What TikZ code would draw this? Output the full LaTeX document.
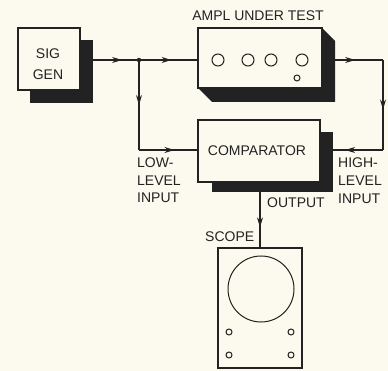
\documentclass[tikz,border=0pt]{standalone}
\usepackage{fontspec}
\setmainfont{Liberation Sans}
\usetikzlibrary{arrows.meta,decorations.markings}
\definecolor{bg}{HTML}{FCF9EE}
\definecolor{ink}{HTML}{222222}
\begin{document}
\begin{tikzpicture}[x=1pt,y=-1pt,
  box/.style={draw=ink,fill=bg,line width=1.8pt,inner sep=0pt,rectangle},
  shade/.style={fill=ink,inner sep=0pt,rectangle},
  lbl/.style={text=ink,font=\fontsize{14}{16}\selectfont,inner sep=0pt},
  conn/.style={draw=ink,line width=1.1pt},
  midarr/.style={postaction={decorate,decoration={markings,mark=at position #1 with {\arrow{Stealth[length=10pt,width=6pt]}}}}},
  knob/.style={draw=ink,line width=1pt,circle,inner sep=0pt}
]
\fill[bg] (0,0) rectangle (388,371);

% SIG GEN
\node[shade,minimum width=63pt,minimum height=63pt] (sigsh) at (61.5,71.5) {};
\node[box,minimum width=62pt,minimum height=62pt] (sig) at (49,59) {};
\node[lbl,anchor=base] (sigt1) at (48,59) {SIG};
\node[lbl,anchor=base] (sigt2) at (48,80) {GEN};

% AMPL UNDER TEST
\fill[ink] (322,28) -- (335,41) -- (335,102) -- (212,102) -- (198,88) -- cycle;
\node[box,minimum width=124pt,minimum height=60pt] (ampl) at (260,58) {};
\node[lbl,anchor=base] (amplt) at (258,21) {AMPL UNDER TEST};
\foreach \i/\x in {1/218,2/248,3/271,4/302}
  \node[knob,minimum size=12pt] (k\i) at (\x,60) {};
\node[knob,minimum size=6pt] (k5) at (297,78) {};
\coordinate (amplR) at (335,60);

% COMPARATOR
\node[shade,minimum width=121pt,minimum height=60pt] (compsh) at (272.5,162) {};
\node[box,minimum width=122pt,minimum height=62pt] (comp) at (259,151) {};
\node[lbl] (compt) at (257,151) {COMPARATOR};

% SCOPE
\node[box,minimum width=84pt,minimum height=120pt] (scope) at (260,308) {};
\node[knob,minimum size=66pt] (screen) at (261,289) {};
\foreach \i/\x/\y in {1/229/332,2/291/332,3/229/355,4/291/355}
  \node[knob,minimum size=6pt] (s\i) at (\x,\y) {};
\node[lbl,anchor=base west] (scopet) at (205,242) {SCOPE};

% labels
\node[lbl,anchor=base west] (lo1) at (137,168) {LOW-};
\node[lbl,anchor=base west] (lo2) at (137,186) {LEVEL};
\node[lbl,anchor=base west] (lo3) at (137,203) {INPUT};
\node[lbl,anchor=base west] (hi1) at (338,168) {HIGH-};
\node[lbl,anchor=base west] (hi2) at (338,186) {LEVEL};
\node[lbl,anchor=base west] (hi3) at (338,204) {INPUT};
\node[lbl,anchor=base west] (outt) at (267,208) {OUTPUT};

% connectors
\coordinate (j) at (139,60);
\coordinate (lowc) at (139,150);
\coordinate (hr) at (383,60);
\coordinate (hc) at (383,150);
\draw[conn,midarr=0.63] (sigsh.east |- j) -- (j);
\draw[conn,midarr=0.56] (j) -- (ampl.west |- j);
\draw[conn,midarr=0.5] (j) -- (lowc);
\draw[conn,midarr=0.61] (lowc) -- (comp.west |- lowc);
\draw[conn,midarr=0.42] (amplR) -- (hr);
\draw[conn,midarr=0.55] (hr) -- (hc);
\draw[conn,midarr=0.76] (hc) -- (compsh.east |- hc);
\draw[conn,midarr=0.64] (scope.north |- compsh.south) -- (scope.north);
\fill[ink] (j) circle (2.2pt);
\end{tikzpicture}
\end{document}
